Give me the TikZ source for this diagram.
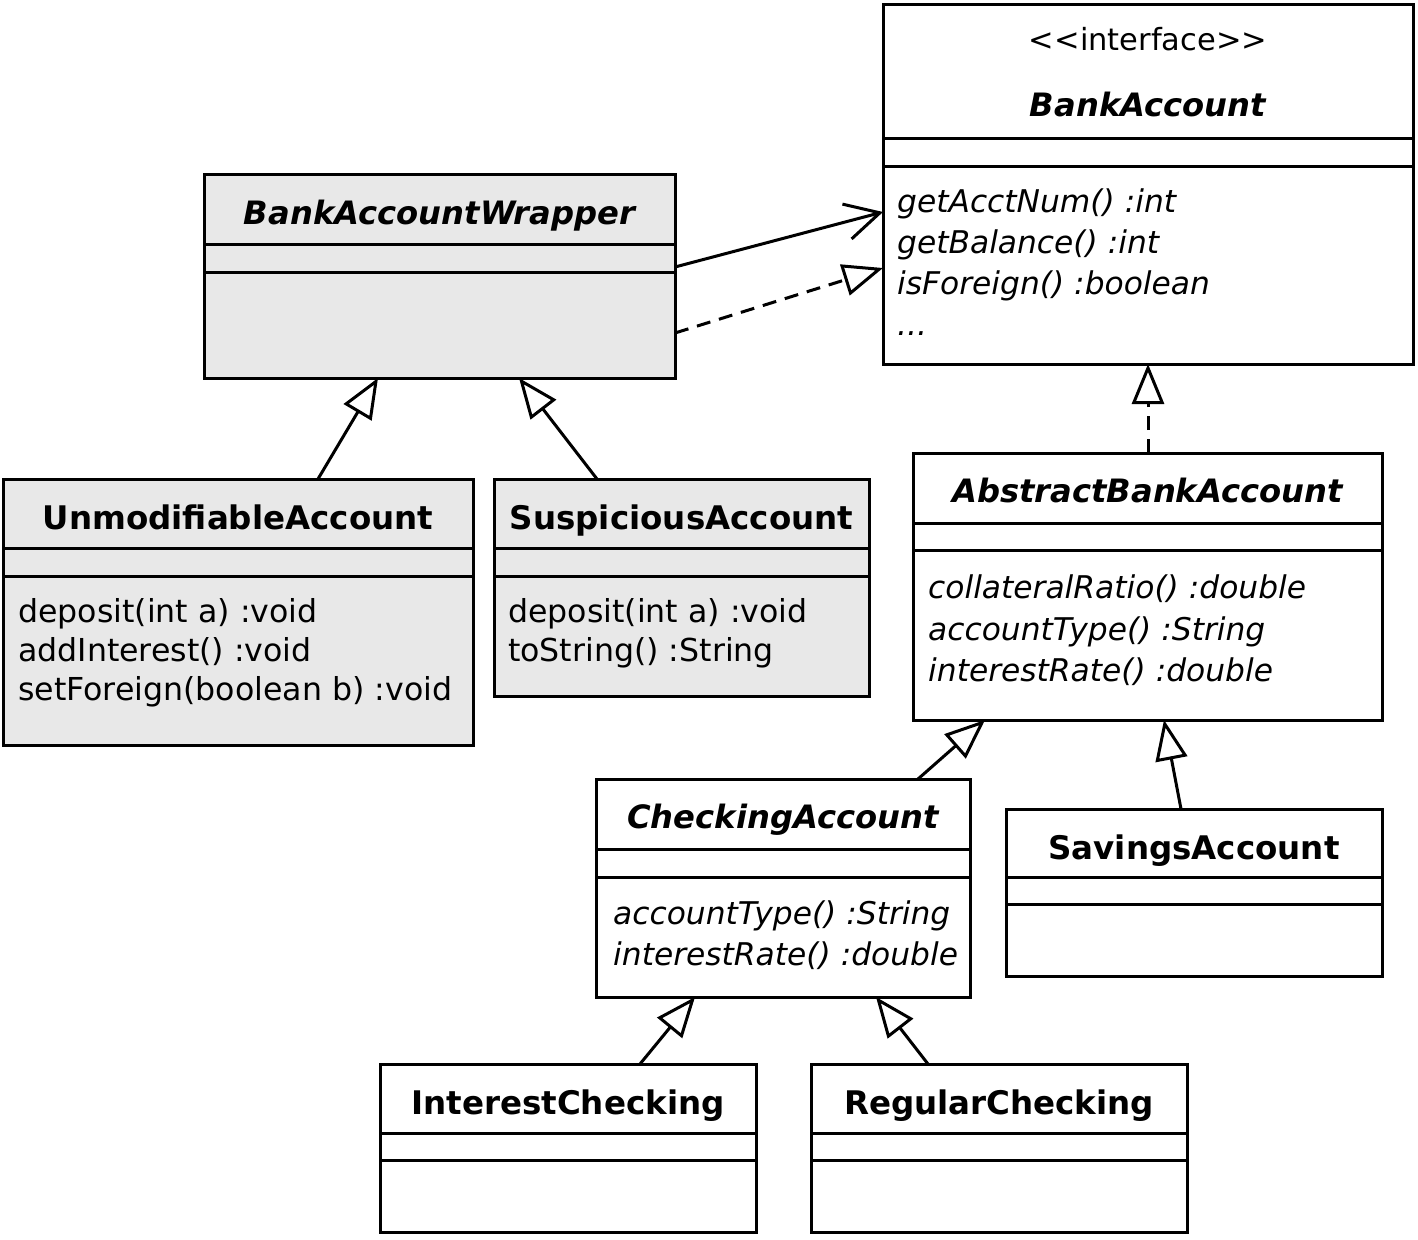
\documentclass[tikz,border=0pt]{standalone}
\usepackage{fontspec}
\setmainfont{DejaVu Sans}
\usetikzlibrary{arrows.meta}
\definecolor{boxgray}{RGB}{232,232,232}
\begin{document}
\begin{tikzpicture}[x=1pt,y=-1pt,
  box/.style={draw, line width=3pt, inner sep=0pt, outer sep=0pt, fill=white},
  gbox/.style={box, fill=boxgray},
  sep/.style={line width=3pt},
  title/.style={anchor=base, inner sep=0pt, font=\fontsize{32.5}{38}\selectfont\bfseries},
  ititle/.style={anchor=base, inner sep=0pt, font=\fontsize{32.2}{38}\selectfont\bfseries\itshape},
  stereo/.style={anchor=base, inner sep=0pt, font=\fontsize{30.5}{38}\selectfont},
  meth/.style={anchor=base west, inner sep=0pt, font=\fontsize{31.6}{38}\selectfont},
  imeth/.style={anchor=base west, inner sep=0pt, font=\fontsize{31.3}{38}\selectfont\itshape},
  gen/.style={line width=3pt, -{Triangle[open, length=40pt, width=32pt]}},
  real/.style={gen, dash pattern=on 14pt off 9pt},
  assoc/.style={line width=3pt, -{Straight Barb[length=34pt, width=36pt]}}
]
\useasboundingbox (0,0) rectangle (1418,1239);

% ---- boxes ----
\node[box,  minimum width=530pt, minimum height=359pt] (ba)    at (1148,184.5) {};
\node[gbox, minimum width=471pt, minimum height=204pt] (wrap)  at (439.5,276) {};
\node[gbox, minimum width=470pt, minimum height=266pt] (unmod) at (238,612) {};
\node[gbox, minimum width=375pt, minimum height=217pt] (susp)  at (681.5,587.5) {};
\node[box,  minimum width=469pt, minimum height=267pt] (abs)   at (1147.5,586.5) {};
\node[box,  minimum width=374pt, minimum height=218pt] (check) at (783,888) {};
\node[box,  minimum width=376pt, minimum height=167pt] (sav)   at (1194,892.5) {};
\node[box,  minimum width=376pt, minimum height=168pt] (intc)  at (568,1148) {};
\node[box,  minimum width=376pt, minimum height=168pt] (regc)  at (999,1148) {};

% ---- compartment separators ----
\foreach \n/\a/\b in {ba/138/166, wrap/244/272, unmod/548/576, susp/548/576,
                      abs/523/550, check/849/877, sav/877/904, intc/1133/1160, regc/1133/1160}{
  \draw[sep] (\n.west |- 0,\a) -- (\n.east |- 0,\a);
  \draw[sep] (\n.west |- 0,\b) -- (\n.east |- 0,\b);
}

% ---- texts ----
\node[stereo] (baS) at (1148,51) {<\kern0pt<interface>\kern0pt>};
\node[ititle] (baT) at (1148,116) {BankAccount};
\node[imeth] (baM1) at (897,212) {getAcctNum() :int};
\node[imeth] (baM2) at (897,253) {getBalance() :int};
\node[imeth] (baM3) at (897,294) {isForeign() :boolean};
\node[imeth] (baM4) at (897,335) {...};

\node[ititle] (wrapT) at (439.5,224) {BankAccountWrapper};

\node[title] (unmodT) at (238,529) {UnmodifiableAccount};
\node[meth] (unmodM1) at (18,622) {deposit(int a) :void};
\node[meth] (unmodM2) at (18,661) {addInterest() :void};
\node[meth] (unmodM3) at (18,700) {setForeign(boolean b) :void};

\node[title] (suspT) at (681.5,529) {SuspiciousAccount};
\node[meth] (suspM1) at (508,622) {deposit(int a) :void};
\node[meth] (suspM2) at (508,661) {toString() :String};

\node[ititle] (absT) at (1147.5,502) {AbstractBankAccount};
\node[imeth] (absM1) at (928,598) {collateralRatio() :double};
\node[imeth] (absM2) at (928,640) {accountType() :String};
\node[imeth] (absM3) at (928,681) {interestRate() :double};

\node[ititle] (checkT) at (783,828) {CheckingAccount};
\node[imeth] (checkM1) at (613,924) {accountType() :String};
\node[imeth] (checkM2) at (613,965) {interestRate() :double};

\node[title] (savT) at (1194,859) {SavingsAccount};
\node[title] (intcT) at (568,1114) {InterestChecking};
\node[title] (regcT) at (999,1114) {RegularChecking};

% ---- connectors ----
\draw[assoc] (wrap.east |- 0,267) -- (ba.west |- 0,212);
\draw[real]  (wrap.east |- 0,333) -- (ba.west |- 0,268);
\draw[gen]   (318,0 |- unmod.north) -- (378,0 |- wrap.south);
\draw[gen]   (597,0 |- susp.north) -- (519,0 |- wrap.south);
\draw[real]  (1148,0 |- abs.north) -- (1148,0 |- ba.south);
\draw[gen]   (918,0 |- check.north) -- (985,0 |- abs.south);
\draw[gen]   (1181,0 |- sav.north) -- (1164,0 |- abs.south);
\draw[gen]   (640,0 |- intc.north) -- (695,0 |- check.south);
\draw[gen]   (928,0 |- regc.north) -- (876,0 |- check.south);
\end{tikzpicture}
\end{document}
